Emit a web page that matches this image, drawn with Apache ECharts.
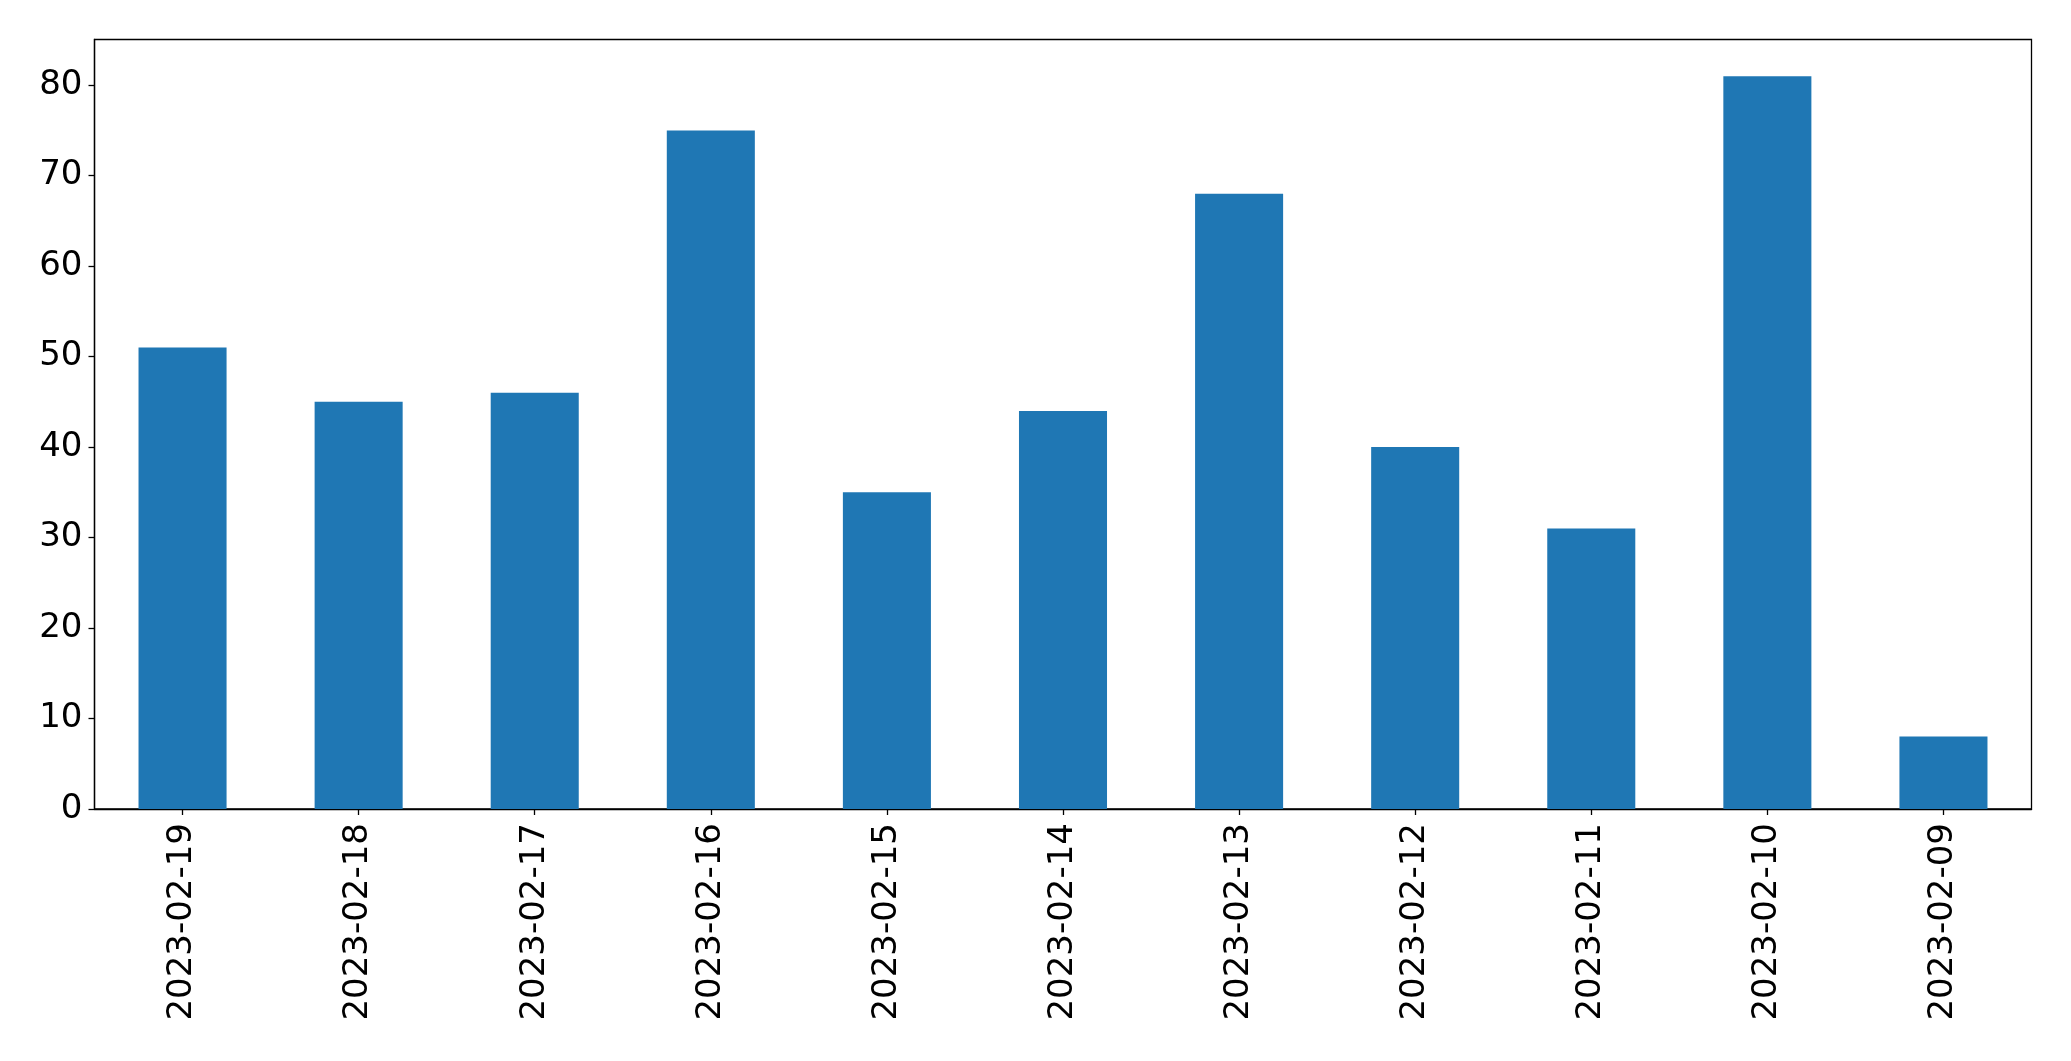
<!DOCTYPE html>
<html>
<head>
<meta charset="utf-8">
<script src="https://cdn.jsdelivr.net/npm/echarts@6/dist/echarts.min.js"></script>
<style>
html,body{margin:0;padding:0;background:#fff;}
#chart{width:2071px;height:1061px;}
</style>
</head>
<body>
<div id="chart"></div>
<script>
const categories = ['2023-02-19','2023-02-18','2023-02-17','2023-02-16','2023-02-15','2023-02-14','2023-02-13','2023-02-12','2023-02-11','2023-02-10','2023-02-09'];
const values = [51, 45, 46, 75, 35, 44, 68, 40, 31, 81, 8];
const yTicks = [0, 10, 20, 30, 40, 50, 60, 70, 80];

const chart = echarts.init(document.getElementById('chart'), null, {renderer:'canvas'});
const font = 'DejaVu Sans';
chart.setOption({
  animation: false,
  backgroundColor: '#ffffff',
  grid: {
    left: 94.5, right: 39.5, top: 39.5, bottom: 252,
    show: true, borderColor: '#000', borderWidth: 1.3, backgroundColor: 'transparent',
    containLabel: false
  },
  xAxis: {
    type: 'category',
    data: categories,
    boundaryGap: true,
    axisLine: {show: true, lineStyle: {color: '#000', width: 1.3}},
    axisTick: {show: true, alignWithLabel: true, length: 6, lineStyle: {color: '#000', width: 1.3}},
    axisLabel: {rotate: 90, margin: 14, color: '#000', fontFamily: font, fontSize: 34, interval: 0},
    splitLine: {show: false}
  },
  yAxis: {
    type: 'value',
    min: 0, max: 85.05, interval: 10,
    axisLine: {show: true, lineStyle: {color: '#000', width: 1.3}},
    axisTick: {show: true, length: 6, lineStyle: {color: '#000', width: 1.3}},
    axisLabel: {
      margin: 12, color: '#000', fontFamily: font, fontSize: 34,
      formatter: function(v){ return yTicks.indexOf(v) >= 0 ? String(v) : ''; },
      showMaxLabel: false
    },
    splitLine: {show: false}
  },
  series: [{
    type: 'bar',
    data: values,
    barWidth: '50%',
    itemStyle: {color: '#1f77b4'}
  }]
});
</script>
</body>
</html>
